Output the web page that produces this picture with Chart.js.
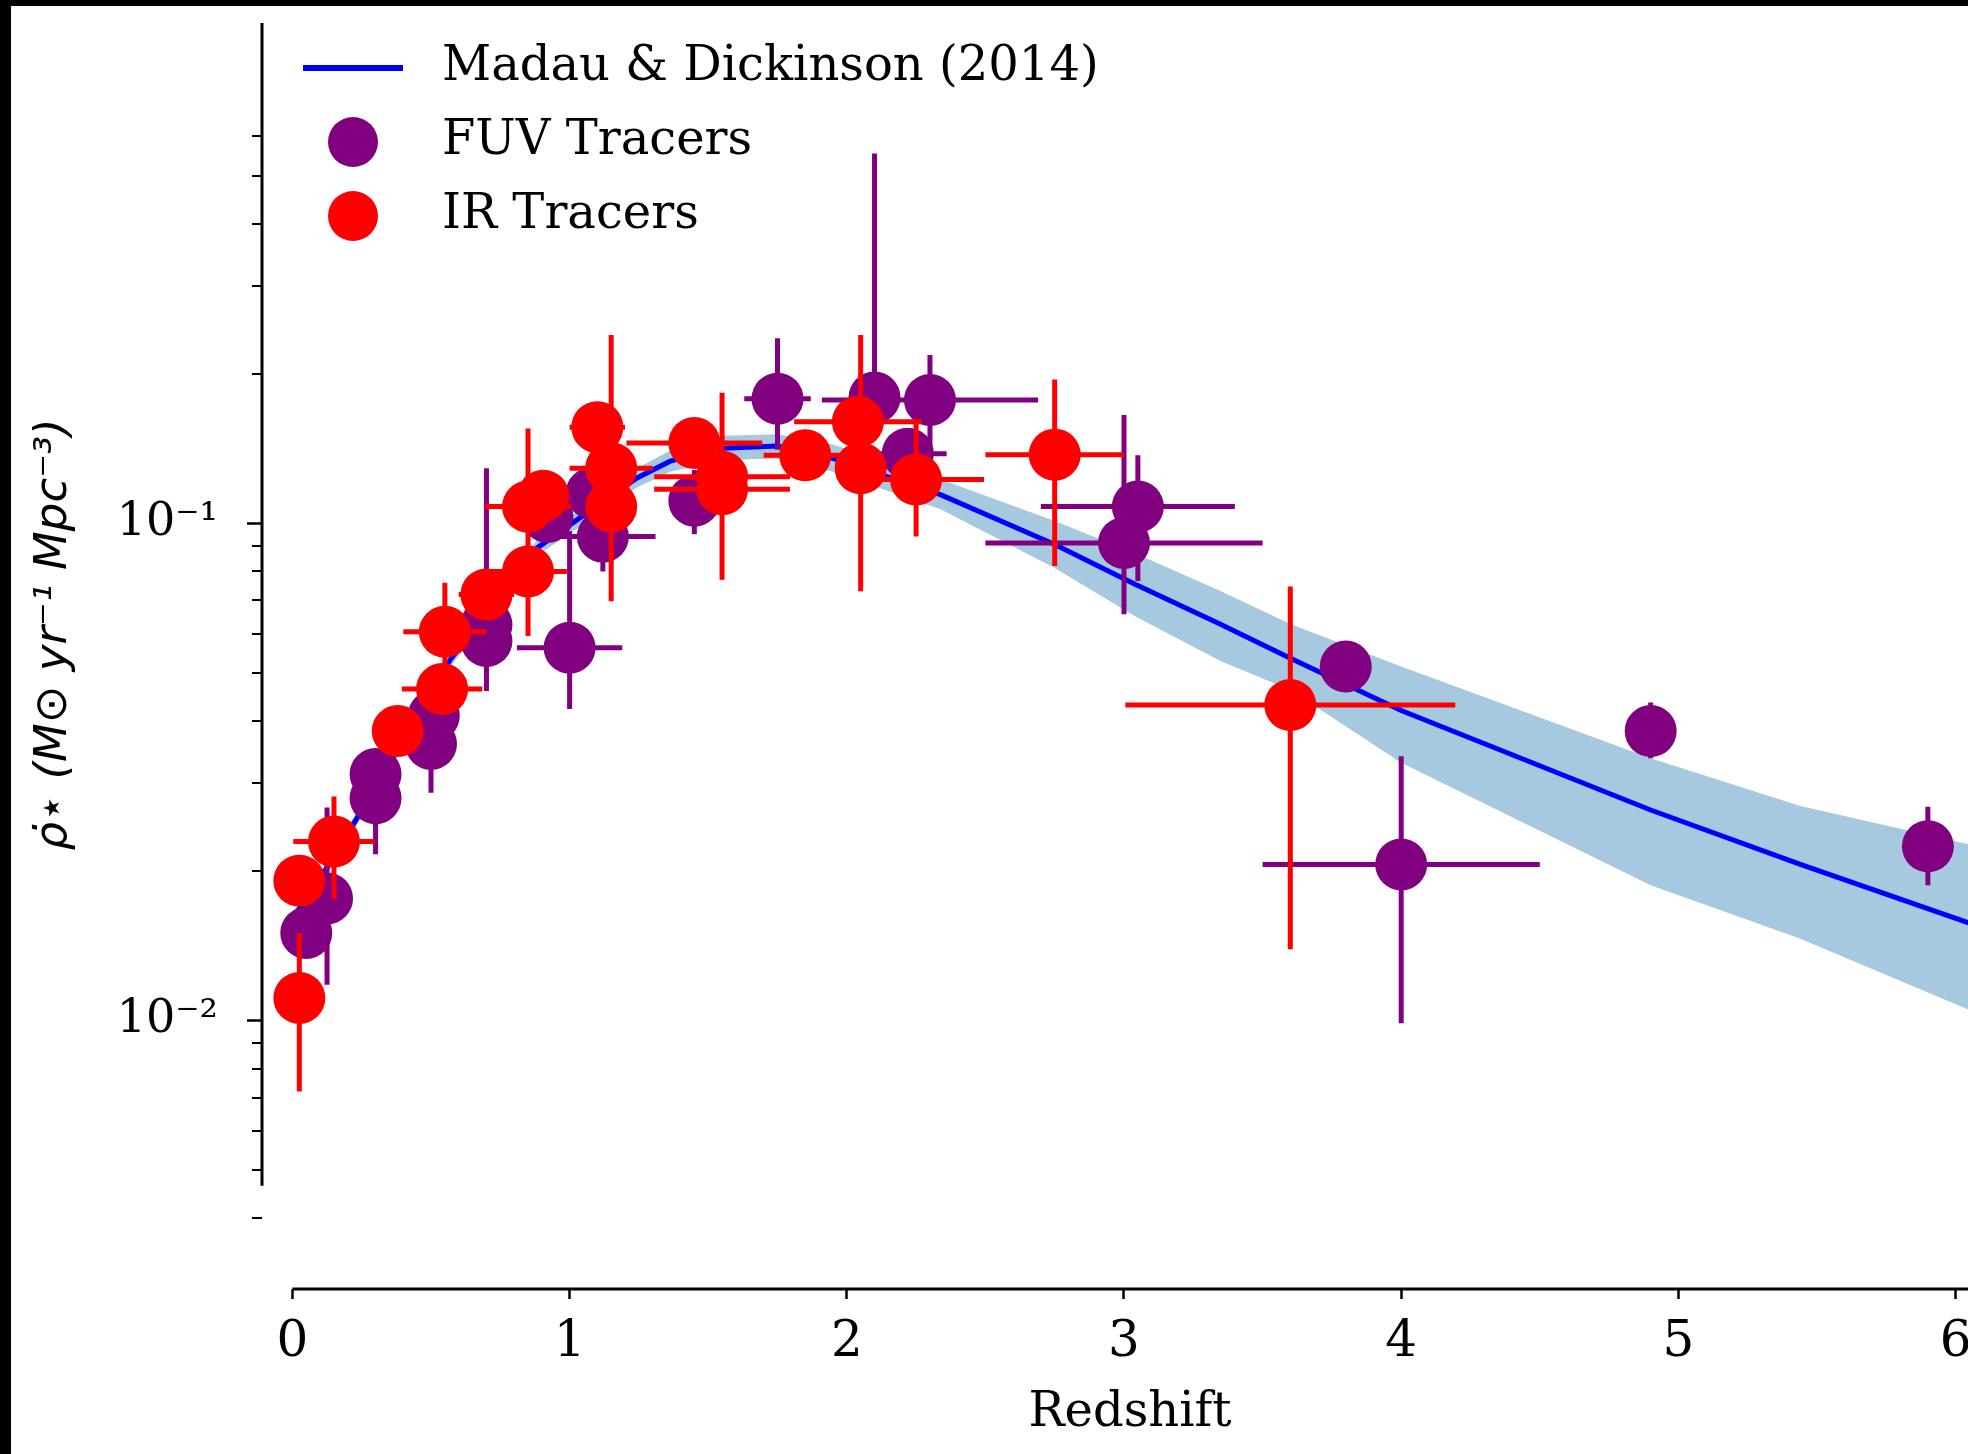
<!DOCTYPE html>
<html>
<head>
<meta charset="utf-8">
<script src="https://cdn.jsdelivr.net/npm/chart.js@4.4.1/dist/chart.umd.min.js"></script>
<style>
  html, body { margin: 0; padding: 0; background: #000; overflow: hidden; }
  #wrap { position: absolute; left: 11px; top: 6px; width: 1987px; height: 1448px; background: #fff; }
  canvas { display: block; }
</style>
</head>
<body>
<div id="wrap"><canvas id="sfrd" width="1987" height="1448"></canvas></div>
<script>
// Madau & Dickinson (2014) curve and its shaded band
const mdZ    = [0.0, 0.125, 0.227, 0.57, 0.883, 1.02, 1.243, 1.363, 1.556, 1.75, 1.95, 2.34, 2.75, 3.04, 3.35, 3.6, 4.0, 4.9, 5.44, 6.05];
const mdRate = [0.0160, 0.0203, 0.0252, 0.0532, 0.0892, 0.101, 0.1233, 0.1333, 0.1416, 0.143, 0.135, 0.114, 0.0906, 0.0754, 0.0626, 0.0535, 0.0420, 0.0265, 0.0206, 0.0157];
const mdLow  = [0.0155, 0.0197, 0.0244, 0.0515, 0.086, 0.097, 0.118, 0.127, 0.134, 0.135, 0.127, 0.1066, 0.0813, 0.065, 0.0528, 0.0462, 0.0330, 0.0187, 0.0146, 0.0105];
const mdHigh = [0.0165, 0.0209, 0.026, 0.055, 0.0925, 0.105, 0.129, 0.140, 0.150, 0.151, 0.144, 0.1224, 0.101, 0.087, 0.073, 0.0627, 0.0515, 0.0337, 0.0270, 0.0226];

// FUV tracers
const fuvZ    = [0.05, 0.125, 0.30, 0.30, 0.50, 0.51, 0.70, 0.70, 0.92, 1.00, 1.08, 1.12, 1.45, 1.75, 2.10, 2.30, 2.22, 3.05, 3.00, 3.80, 4.00, 4.90, 5.90];
const fuvRate = [0.0150, 0.0176, 0.0313, 0.0280, 0.0360, 0.0410, 0.0580, 0.0625, 0.1030, 0.0562, 0.1150, 0.0940, 0.1110, 0.1780, 0.1790, 0.1770, 0.1380, 0.1080, 0.0913, 0.0515, 0.0206, 0.0382, 0.0224];
const fuvZErr = [0, 0, 0, 0, 0, 0, 0, 0, 0, 0.19, 0, 0.19, 0, 0.12, 0, 0.39, 0.14, 0.35, 0.50, 0, 0.50, 0, 0];
const fuvLow  = [0.0150, 0.0118, 0.0313, 0.0216, 0.0287, 0.0410, 0.0460, 0.0625, 0.1030, 0.0423, 0.1150, 0.0800, 0.0950, 0.1405, 0.1600, 0.1400, 0.1380, 0.0765, 0.0656, 0.0515, 0.00987, 0.0337, 0.0187];
const fuvHigh = [0.0150, 0.0268, 0.0313, 0.0345, 0.0430, 0.0410, 0.1290, 0.0625, 0.1030, 0.0964, 0.1150, 0.1100, 0.1280, 0.2355, 0.5540, 0.2180, 0.1380, 0.1370, 0.1650, 0.0515, 0.0340, 0.0436, 0.0269];

// IR tracers
const irZ    = [0.025, 0.025, 0.15, 0.38, 0.54, 0.55, 0.70, 0.85, 0.85, 0.905, 1.10, 1.15, 1.15, 1.45, 1.55, 1.55, 1.85, 2.04, 2.05, 2.25, 2.75, 3.60];
const irRate = [0.0111, 0.0191, 0.0229, 0.0382, 0.0464, 0.0605, 0.0719, 0.0800, 0.1080, 0.1136, 0.1560, 0.1290, 0.1080, 0.1450, 0.1240, 0.1170, 0.1370, 0.1600, 0.1290, 0.1224, 0.1374, 0.0431];
const irZErr = [0, 0, 0.147, 0, 0.145, 0.15, 0.10, 0.14, 0.155, 0, 0.10, 0.15, 0, 0.245, 0.245, 0.245, 0.15, 0.23, 0, 0.245, 0.25, 0.595];
const irLow  = [0.0072, 0.0191, 0.0176, 0.0382, 0.0464, 0.0460, 0.0719, 0.0800, 0.0593, 0.1136, 0.1560, 0.0697, 0.1080, 0.1450, 0.1240, 0.0770, 0.1370, 0.1600, 0.0730, 0.0940, 0.0820, 0.0139];
const irHigh = [0.0150, 0.0191, 0.0282, 0.0382, 0.0464, 0.0759, 0.0719, 0.0800, 0.1550, 0.1136, 0.1560, 0.2390, 0.1080, 0.1450, 0.1240, 0.1830, 0.1370, 0.1600, 0.2390, 0.1590, 0.1945, 0.0746];

// Axis ticks
const zTicks = [0, 1, 2, 3, 4, 5, 6];
const rateMajor = [0.01, 0.1];
const rateMajorLabels = ["10⁻²", "10⁻¹"];
const rateMinor = [0.004, 0.005, 0.006, 0.007, 0.008, 0.009,
                   0.02, 0.03, 0.04, 0.05, 0.06, 0.07, 0.08, 0.09,
                   0.2, 0.3, 0.4, 0.5, 0.6];

const PURPLE = "#800080";
const RED = "#ff0000";
const BLUE = "#0000ff";
const BAND = "#a6c9e0";
const SERIF = "'DejaVu Serif', serif";

function toPoints(xs, ys) {
  return xs.map((x, i) => ({ x: x, y: ys[i] }));
}

// error bars as broken line segments (null breaks the line)
function errorSegments(z, rate, zErr, low, high) {
  const pts = [];
  for (let i = 0; i < z.length; i++) {
    if (high[i] > low[i]) {
      pts.push({ x: z[i], y: low[i] }, { x: z[i], y: high[i] }, { x: z[i], y: null });
    }
    if (zErr[i] > 0) {
      pts.push({ x: z[i] - zErr[i], y: rate[i] }, { x: z[i] + zErr[i], y: rate[i] }, { x: z[i], y: null });
    }
  }
  return pts;
}

// legend swatches
function swatch(w, h, draw) {
  const c = document.createElement("canvas");
  c.width = w;
  c.height = h;
  draw(c.getContext("2d"));
  return c;
}
const lineSwatch = swatch(100, 6, ctx => { ctx.fillStyle = BLUE; ctx.fillRect(0, 0, 100, 6); });
const dotSwatch = color => swatch(52, 52, ctx => {
  ctx.fillStyle = color;
  ctx.beginPath();
  ctx.arc(26, 26, 25, 0, Math.PI * 2);
  ctx.fill();
});

const ySpineEnd = 0.00465;

// spines and minor ticks
const spines = {
  id: "spines",
  afterLayout(chart) {
    chart.legend.top = chart.chartArea.top - 5;
  },
  afterDraw(chart) {
    const { ctx, chartArea, scales } = chart;
    const x = scales.x, y = scales.y;
    ctx.save();
    ctx.strokeStyle = "#000";
    ctx.lineWidth = 3;
    ctx.beginPath();
    ctx.moveTo(chartArea.left, y.getPixelForValue(y.max));
    ctx.lineTo(chartArea.left, y.getPixelForValue(ySpineEnd));
    ctx.stroke();
    ctx.beginPath();
    ctx.moveTo(x.getPixelForValue(0), chartArea.bottom);
    ctx.lineTo(chartArea.right, chartArea.bottom);
    ctx.stroke();
    ctx.lineWidth = 2;
    rateMinor.forEach(v => {
      const py = Math.round(y.getPixelForValue(v));
      ctx.beginPath();
      ctx.moveTo(chartArea.left - 10, py);
      ctx.lineTo(chartArea.left, py);
      ctx.stroke();
    });
    ctx.restore();
  }
};

new Chart(document.getElementById("sfrd"), {
  type: "scatter",
  data: {
    datasets: [
      {
        label: "band high",
        data: toPoints(mdZ, mdHigh),
        showLine: true,
        fill: "+1",
        backgroundColor: BAND,
        borderWidth: 0,
        pointRadius: 0,
        order: 10
      },
      {
        label: "band low",
        data: toPoints(mdZ, mdLow),
        showLine: true,
        fill: false,
        borderWidth: 0,
        pointRadius: 0,
        order: 10
      },
      {
        label: "Madau & Dickinson (2014)",
        data: toPoints(mdZ, mdRate),
        showLine: true,
        borderColor: BLUE,
        borderWidth: 5,
        pointRadius: 0,
        order: 9
      },
      {
        label: "FUV errors",
        data: errorSegments(fuvZ, fuvRate, fuvZErr, fuvLow, fuvHigh),
        showLine: true,
        spanGaps: false,
        borderColor: PURPLE,
        borderWidth: 5,
        borderCapStyle: "butt",
        pointRadius: 0,
        order: 8
      },
      {
        label: "FUV Tracers",
        data: toPoints(fuvZ, fuvRate),
        backgroundColor: PURPLE,
        borderWidth: 0,
        pointRadius: 26,
        order: 7
      },
      {
        label: "IR errors",
        data: errorSegments(irZ, irRate, irZErr, irLow, irHigh),
        showLine: true,
        spanGaps: false,
        borderColor: RED,
        borderWidth: 5,
        borderCapStyle: "butt",
        pointRadius: 0,
        order: 6
      },
      {
        label: "IR Tracers",
        data: toPoints(irZ, irRate),
        backgroundColor: RED,
        borderWidth: 0,
        pointRadius: 26,
        order: 5
      }
    ]
  },
  options: {
    responsive: false,
    animation: false,
    events: [],
    layout: { autoPadding: false, padding: { top: 17, left: 0, right: 0, bottom: 0 } },
    plugins: {
      tooltip: { enabled: false },
      legend: {
        position: "chartArea",
        align: "start",
        labels: {
          usePointStyle: true,
          pointStyleWidth: 130,
          padding: 26,
          color: "#000",
          font: { family: SERIF, size: 48 },
          generateLabels: () => [
            { text: "Madau & Dickinson (2014)", pointStyle: lineSwatch, datasetIndex: 2, lineWidth: 0, fontColor: "#000" },
            { text: "FUV Tracers", pointStyle: dotSwatch(PURPLE), datasetIndex: 4, lineWidth: 0, fontColor: "#000" },
            { text: "IR Tracers", pointStyle: dotSwatch(RED), datasetIndex: 6, lineWidth: 0, fontColor: "#000" }
          ]
        }
      }
    },
    scales: {
      x: {
        type: "linear",
        position: "bottom",
        min: -0.1097,
        max: 6.153,
        afterBuildTicks: s => { s.ticks = zTicks.map(v => ({ value: v })); },
        afterFit: s => { s.height = 165; s.paddingLeft = 0; s.paddingRight = 0; },
        border: { display: false },
        grid: { drawOnChartArea: false, drawTicks: true, tickLength: 10, tickWidth: 2.5, tickColor: "#000" },
        ticks: {
          autoSkip: false,
          maxRotation: 0,
          padding: 14,
          color: "#000",
          font: { family: SERIF, size: 50 },
          callback: v => String(v)
        },
        title: {
          display: true,
          text: "Redshift",
          color: "#000",
          font: { family: SERIF, size: 48 },
          padding: { top: 0, bottom: 12 }
        }
      },
      y: {
        type: "logarithmic",
        position: "left",
        min: 0.002884,
        max: 1.014,
        afterBuildTicks: s => { s.ticks = rateMajor.map(v => ({ value: v })); },
        afterFit: s => { s.width = 251; s.paddingTop = 0; s.paddingBottom = 0; },
        border: { display: false },
        grid: { drawOnChartArea: false, drawTicks: true, tickLength: 15, tickWidth: 2.5, tickColor: "#000" },
        ticks: {
          autoSkip: false,
          padding: 29,
          color: "#000",
          font: { family: SERIF, size: 46 },
          callback: v => {
            const i = rateMajor.indexOf(v);
            return i >= 0 ? rateMajorLabels[i] : "";
          }
        },
        title: {
          display: true,
          text: "   ρ̇⋆ (M⊙ yr⁻¹ Mpc⁻³)",
          color: "#000",
          font: { family: "'DejaVu Sans', sans-serif", style: "italic", size: 45 },
          padding: { top: 16, bottom: 0 }
        }
      }
    }
  },
  plugins: [spines]
});
</script>
</body>
</html>
